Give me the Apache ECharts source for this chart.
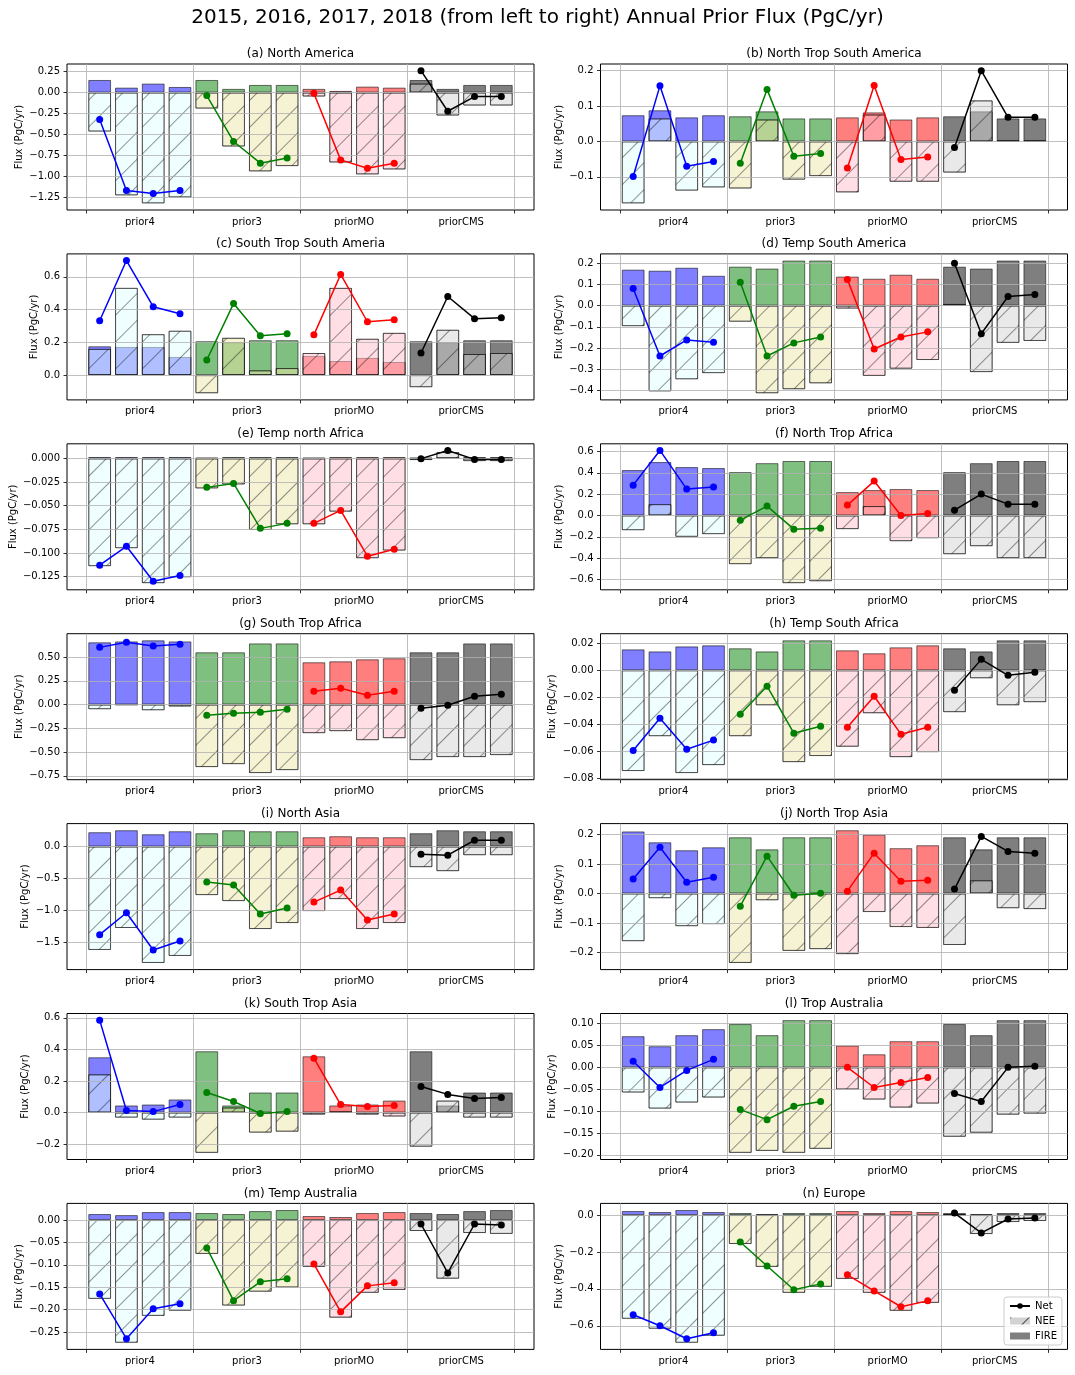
<!DOCTYPE html>
<html><head><meta charset="utf-8">
<script src="https://cdn.jsdelivr.net/npm/echarts@6/dist/echarts.min.js"></script>
<style>html,body{margin:0;padding:0;background:#fff}#c{width:1075px;height:1375px}</style>
</head><body><div id="c"></div>
<script>
// ---------------- data ----------------
const groups = ['prior4', 'prior3', 'priorMO', 'priorCMS'];
const groupLabelPos = [2, 6, 10, 14];
const groupEdges = [0, 4, 8, 12, 16];
const suptitle = '2015, 2016, 2017, 2018 (from left to right) Annual Prior Flux (PgC/yr)';
const yName = 'Flux (PgC/yr)';
const titles = ['(a) North America', '(b) North Trop South America', '(c) South Trop South Ameria',
  '(d) Temp South America', '(e) Temp north Africa', '(f) North Trop Africa', '(g) South Trop Africa',
  '(h) Temp South Africa', '(i) North Asia', '(j) North Trop Asia', '(k) South Trop Asia',
  '(l) Trop Australia', '(m) Temp Australia', '(n) Europe'];

const fire_a = [0.150,0.059,0.107,0.067, 0.150,0.044,0.091,0.091, 0.044,0.020,0.071,0.059, 0.150,0.044,0.091,0.091];
const nee_a  = [-0.463,-1.222,-1.317,-1.246, -0.190,-0.641,-0.937,-0.874, -0.047,-0.831,-0.973,-0.914, 0.107,-0.273,-0.154,-0.154];
const net_a  = [-0.320,-1.163,-1.199,-1.163, -0.036,-0.581,-0.839,-0.779, -0.008,-0.800,-0.900,-0.840, 0.261,-0.222,-0.047,-0.047];
const ticks_a = [-1.25,-1.00,-0.75,-0.50,-0.25,0.00,0.25];

const fire_b = [0.074,0.088,0.068,0.074, 0.071,0.085,0.065,0.065, 0.068,0.082,0.062,0.068, 0.071,0.085,0.065,0.065];
const nee_b  = [-0.175,0.065,-0.139,-0.130, -0.133,0.062,-0.108,-0.098, -0.144,0.076,-0.114,-0.114, -0.088,0.116,0.002,0.002];
const net_b  = [-0.099,0.157,-0.070,-0.057, -0.062,0.147,-0.042,-0.034, -0.075,0.158,-0.051,-0.044, -0.017,0.200,0.068,0.068];
const ticks_b = [-0.1,0.0,0.1,0.2];

const fire_c = [0.176,0.172,0.172,0.111, 0.207,0.201,0.213,0.213, 0.117,0.086,0.105,0.080, 0.207,0.201,0.213,0.213];
const nee_c  = [0.160,0.533,0.250,0.271, -0.111,0.228,0.029,0.043, 0.135,0.533,0.222,0.258, -0.074,0.277,0.129,0.135];
const net_c  = [0.332,0.700,0.418,0.375, 0.092,0.437,0.240,0.252, 0.246,0.615,0.326,0.338, 0.135,0.480,0.345,0.351];
const ticks_c = [0.0,0.2,0.4,0.6];

const fire_d = [0.170,0.165,0.179,0.141, 0.184,0.175,0.213,0.213, 0.137,0.127,0.146,0.127, 0.184,0.175,0.213,0.213];
const nee_d  = [-0.097,-0.405,-0.348,-0.319, -0.076,-0.414,-0.395,-0.367, -0.014,-0.332,-0.298,-0.257, 0.008,-0.314,-0.176,-0.167];
const net_d  = [0.081,-0.238,-0.162,-0.173, 0.110,-0.238,-0.176,-0.148, 0.124,-0.205,-0.148,-0.124, 0.200,-0.133,0.043,0.052];
const ticks_d = [-0.4,-0.3,-0.2,-0.1,0.0,0.1,0.2];

const fire_e = [0.0015,0.0015,0.0015,0.0015, 0.0007,0.0015,0.0015,0.0015, 0.0007,0.0015,0.0015,0.0015, 0.0007,0.0015,0.0015,0.0015];
const nee_e  = [-0.1140,-0.0950,-0.1320,-0.1257, -0.0317,-0.0275,-0.0757,-0.0697, -0.0697,-0.0563,-0.1056,-0.0975, -0.0017,0.0068,-0.0028,-0.0028];
const net_e  = [-0.1130,-0.0930,-0.1300,-0.1240, -0.0306,-0.0264,-0.0740,-0.0687, -0.0687,-0.0550,-0.1035,-0.0960, -0.0002,0.0085,-0.0010,-0.0010];
const ticks_e = [-0.125,-0.100,-0.075,-0.050,-0.025,0.000];

const fire_f = [0.425,0.500,0.453,0.444, 0.406,0.490,0.510,0.510, 0.219,0.238,0.247,0.238, 0.406,0.490,0.510,0.510];
const nee_f  = [-0.138,0.106,-0.200,-0.175, -0.456,-0.400,-0.634,-0.616, -0.128,0.088,-0.241,-0.213, -0.363,-0.288,-0.400,-0.400];
const net_f  = [0.284,0.609,0.247,0.266, -0.044,0.088,-0.128,-0.119, 0.097,0.322,0.000,0.019, 0.050,0.200,0.106,0.106];
const ticks_f = [-0.6,-0.4,-0.2,0.0,0.2,0.4,0.6];

const fire_g = [0.655,0.665,0.676,0.665, 0.550,0.550,0.644,0.644, 0.445,0.455,0.476,0.487, 0.550,0.550,0.644,0.644];
const nee_g  = [-0.049,-0.002,-0.060,-0.021, -0.658,-0.627,-0.721,-0.690, -0.301,-0.280,-0.375,-0.354, -0.585,-0.553,-0.553,-0.532];
const net_g  = [0.602,0.655,0.616,0.634, -0.112,-0.091,-0.081,-0.049, 0.140,0.172,0.098,0.140, -0.039,-0.007,0.088,0.109];
const ticks_g = [-0.75,-0.50,-0.25,0.00,0.25,0.50];

const fire_h = [0.0155,0.0140,0.0177,0.0185, 0.0163,0.0140,0.0222,0.0222, 0.0148,0.0126,0.0170,0.0185, 0.0163,0.0140,0.0222,0.0222];
const nee_h  = [-0.0746,-0.0488,-0.0761,-0.0702, -0.0488,-0.0259,-0.0680,-0.0635, -0.0566,-0.0318,-0.0643,-0.0606, -0.0310,-0.0059,-0.0259,-0.0236];
const net_h  = [-0.0594,-0.0355,-0.0584,-0.0517, -0.0325,-0.0118,-0.0466,-0.0414, -0.0421,-0.0192,-0.0473,-0.0421, -0.0148,0.0081,-0.0037,-0.0015];
const ticks_h = [-0.08,-0.06,-0.04,-0.02,0.00,0.02];

const fire_i = [0.225,0.256,0.193,0.240, 0.209,0.256,0.240,0.240, 0.146,0.162,0.146,0.146, 0.209,0.256,0.240,0.240];
const nee_i  = [-1.625,-1.280,-1.829,-1.719, -0.763,-0.857,-1.296,-1.202, -1.014,-0.826,-1.296,-1.202, -0.324,-0.387,-0.136,-0.136];
const net_i  = [-1.385,-1.040,-1.625,-1.484, -0.559,-0.606,-1.060,-0.967, -0.873,-0.684,-1.155,-1.060, -0.120,-0.136,0.099,0.099];
const ticks_i = [-1.5,-1.0,-0.5,0.0];

const fire_j = [0.211,0.174,0.147,0.157, 0.191,0.150,0.191,0.191, 0.215,0.200,0.154,0.164, 0.191,0.150,0.191,0.191];
const nee_j  = [-0.162,-0.016,-0.111,-0.104, -0.236,-0.023,-0.195,-0.189, -0.206,-0.063,-0.114,-0.117, -0.175,0.045,-0.050,-0.053];
const net_j  = [0.049,0.157,0.038,0.055, -0.043,0.127,-0.006,0.001, 0.008,0.137,0.042,0.045, 0.015,0.194,0.143,0.137];
const ticks_j = [-0.2,-0.1,0.0,0.1,0.2];

const fire_k = [0.350,0.045,0.051,0.083, 0.388,0.045,0.127,0.127, 0.356,0.045,0.051,0.076, 0.388,0.045,0.127,0.127];
const nee_k  = [0.242,-0.032,-0.045,-0.032, -0.255,0.032,-0.127,-0.121, -0.013,0.006,-0.013,-0.025, -0.216,0.076,-0.032,-0.032];
const net_k  = [0.585,0.013,0.006,0.051, 0.127,0.070,-0.006,0.006, 0.344,0.051,0.038,0.045, 0.165,0.115,0.089,0.095];
const ticks_k = [-0.2,0.0,0.2,0.4,0.6];

const fire_l = [0.0713,0.0483,0.0736,0.0874, 0.0990,0.0736,0.1080,0.1080, 0.0498,0.0299,0.0598,0.0598, 0.0990,0.0736,0.1080,0.1080];
const nee_l  = [-0.0575,-0.0943,-0.0805,-0.0690, -0.1955,-0.1910,-0.1955,-0.1863, -0.0506,-0.0736,-0.0920,-0.0828, -0.1587,-0.1495,-0.1081,-0.1058];
const net_l  = [0.0138,-0.0460,-0.0069,0.0184, -0.0966,-0.1196,-0.0890,-0.0780, 0.0000,-0.0460,-0.0345,-0.0230, -0.0598,-0.0780,0.0000,0.0023];
const ticks_l = [-0.20,-0.15,-0.10,-0.05,0.00,0.05,0.10];

const fire_m = [0.0134,0.0110,0.0178,0.0178, 0.0156,0.0134,0.0200,0.0223, 0.0089,0.0067,0.0156,0.0178, 0.0156,0.0134,0.0200,0.0223];
const nee_m  = [-0.1760,-0.2740,-0.2140,-0.2025, -0.0757,-0.1910,-0.1600,-0.1506, -0.1046,-0.2180,-0.1625,-0.1560, -0.0245,-0.1310,-0.0290,-0.0310];
const net_m  = [-0.1650,-0.2650,-0.1980,-0.1870, -0.0623,-0.1800,-0.1380,-0.1310, -0.0980,-0.2050,-0.1470,-0.1400, -0.0089,-0.1180,-0.0089,-0.0110];
const ticks_m = [-0.25,-0.20,-0.15,-0.10,-0.05,0.00];

const fire_n = [0.0216,0.0162,0.0270,0.0162, 0.0108,0.0054,0.0108,0.0108, 0.0216,0.0108,0.0216,0.0162, 0.0108,0.0054,0.0108,0.0108];
const nee_n  = [-0.562,-0.616,-0.692,-0.654, -0.157,-0.281,-0.4216,-0.389, -0.346,-0.4216,-0.519,-0.476, 0.001,-0.103,-0.038,-0.0324];
const net_n  = [-0.540,-0.600,-0.670,-0.638, -0.146,-0.276,-0.405,-0.373, -0.324,-0.411,-0.497,-0.465, 0.0108,-0.097,-0.0216,-0.0162];
const ticks_n = [-0.6,-0.4,-0.2,0.0];

const tickDecimals = [2,1,1,1,3,1,2,2,1,1,1,2,2,1];

const panels = [
  [fire_a, nee_a, net_a, ticks_a], [fire_b, nee_b, net_b, ticks_b],
  [fire_c, nee_c, net_c, ticks_c], [fire_d, nee_d, net_d, ticks_d],
  [fire_e, nee_e, net_e, ticks_e], [fire_f, nee_f, net_f, ticks_f],
  [fire_g, nee_g, net_g, ticks_g], [fire_h, nee_h, net_h, ticks_h],
  [fire_i, nee_i, net_i, ticks_i], [fire_j, nee_j, net_j, ticks_j],
  [fire_k, nee_k, net_k, ticks_k], [fire_l, nee_l, net_l, ticks_l],
  [fire_m, nee_m, net_m, ticks_m], [fire_n, nee_n, net_n, ticks_n]
];

// ---------------- style / layout ----------------
const fireColors = ['rgba(0,0,255,0.5)', 'rgba(0,128,0,0.5)', 'rgba(255,0,0,0.5)', 'rgba(0,0,0,0.5)'];
const neeColors = ['rgba(224,255,255,0.5)', 'rgba(238,232,170,0.5)', 'rgba(255,192,203,0.5)', 'rgba(211,211,211,0.5)'];
const lineColors = ['#0000ff', '#008000', '#ff0000', '#000000'];
const FONT = '"DejaVu Sans", sans-serif';
const colLeft = [67, 600.5], AXW = 467, AXH = 146, ROW0 = 64, ROWP = 189.9;
const X_MIN = -0.72, X_MAX = 16.72, BAR_FRAC = 0.85;
const barW = BAR_FRAC * AXW / (X_MAX - X_MIN);

const mctx = document.createElement('canvas').getContext('2d');
mctx.font = '10px "DejaVu Sans"';

const hatch = {symbol: 'rect', symbolSize: 1, color: 'rgba(0,0,0,0.42)', dashArrayX: [1, 0], dashArrayY: [1, 18], rotation: -Math.PI / 4};
const legendHatch = {symbol: 'rect', symbolSize: 1, color: 'rgba(0,0,0,0.7)', dashArrayX: [1, 0], dashArrayY: [1, 12], rotation: -Math.PI / 4};

const grids = [], xAxes = [], yAxes = [], series = [], graphics = [];
graphics.push({type: 'text', x: 537.5, y: 8, z: 10, style: {text: suptitle, fill: '#000', font: '20px ' + FONT, textAlign: 'center', textVerticalAlign: 'top'}});

panels.forEach((p, k) => {
  const [fire, nee, net, ticks] = p;
  const col = k % 2, row = Math.floor(k / 2);
  const left = colLeft[col], top = ROW0 + row * ROWP;
  grids.push({left: left, top: top, width: AXW, height: AXH, show: true, borderColor: '#000', borderWidth: 1,
    backgroundColor: 'rgba(0,0,0,0)', containLabel: false, outerBoundsMode: 'none'});
  graphics.push({type: 'text', x: left + AXW / 2, y: top - 16, z: 10,
    style: {text: titles[k], fill: '#000', font: '12px ' + FONT, textAlign: 'center', textVerticalAlign: 'top'}});

  const all = [0].concat(fire, nee, net);
  let lo = Math.min(...all), hi = Math.max(...all);
  const rng = hi - lo; lo -= 0.05 * rng; hi += 0.05 * rng;
  const dec = tickDecimals[k];
  const fmt = v => (v < 0 ? '\u2212' : '') + Math.abs(v).toFixed(dec);
  const lw = Math.max(...ticks.map(v => mctx.measureText(fmt(v)).width));

  xAxes.push({gridIndex: k, type: 'value', min: X_MIN, max: X_MAX, z: 3,
    axisLine: {show: false, onZero: false},
    axisTick: {show: true, customValues: groupEdges, length: 3.5, lineStyle: {color: '#000', width: 0.8}},
    splitLine: {show: true, lineStyle: {color: '#b0b0b0', width: 0.8}},
    axisLabel: {customValues: groupLabelPos, formatter: v => groups[groupLabelPos.indexOf(v)] || '',
      margin: 7, fontSize: 10, fontFamily: FONT, color: '#000'}
  });
  yAxes.push({gridIndex: k, type: 'value', min: lo, max: hi, z: 3,
    name: yName, nameLocation: 'middle', nameRotate: 90, nameGap: lw + 12,
    nameTextStyle: {fontSize: 10, fontFamily: FONT, color: '#000'},
    axisLine: {show: false, onZero: false},
    axisTick: {show: true, customValues: ticks, length: 3.5, lineStyle: {color: '#000', width: 0.8}},
    splitLine: {show: true, lineStyle: {color: '#b0b0b0', width: 0.8}},
    axisLabel: {customValues: ticks, formatter: v => fmt(v), margin: 7, fontSize: 10, fontFamily: FONT, color: '#000'}
  });

  const xOf = i => Math.floor(i / 4) * 4 + (i % 4) + 0.5;
  series.push({type: 'bar', name: 'FIRE', xAxisIndex: k, yAxisIndex: k, barWidth: barW, barGap: '-100%', z: 2,
    itemStyle: {color: 'rgba(0,0,0,0.5)', borderColor: 'rgba(0,0,0,0.55)', borderWidth: 1},
    data: fire.map((v, i) => ({value: [xOf(i), v], itemStyle: {color: fireColors[Math.floor(i / 4)]}})),
    silent: true});
  series.push({type: 'bar', name: 'NEE', xAxisIndex: k, yAxisIndex: k, barWidth: barW, barGap: '-100%', z: 2,
    itemStyle: {color: 'rgba(211,211,211,0.5)', borderColor: 'rgba(0,0,0,0.45)', borderWidth: 1, decal: hatch},
    data: nee.map((v, i) => ({value: [xOf(i), v], itemStyle: {color: neeColors[Math.floor(i / 4)], decal: hatch}})),
    silent: true});
  for (let g = 0; g < 4; g++) {
    series.push({type: 'line', name: g === 3 ? 'Net' : 'Net ' + groups[g], xAxisIndex: k, yAxisIndex: k, z: 5,
      symbol: 'circle', symbolSize: 7, showSymbol: true,
      lineStyle: {color: lineColors[g], width: 1.5}, itemStyle: {color: lineColors[g]},
      data: net.slice(g * 4, g * 4 + 4).map((v, j) => [xOf(g * 4 + j), v]), silent: true});
  }
});

const chart = echarts.init(document.getElementById('c'), null, {renderer: 'canvas', width: 1075, height: 1375});
chart.setOption({
  animation: false,
  backgroundColor: '#fff',
  grid: grids, xAxis: xAxes, yAxis: yAxes, series: series, graphic: graphics,
  legend: {
    data: [
      {name: 'Net'},
      {name: 'NEE', icon: 'rect', itemStyle: {color: 'rgba(200,200,200,0.8)', borderWidth: 0, decal: legendHatch}},
      {name: 'FIRE', icon: 'rect', itemStyle: {color: 'rgba(0,0,0,0.5)', borderWidth: 0}}
    ],
    orient: 'vertical', left: 1004, top: 1297, z: 20,
    itemWidth: 20, itemHeight: 7, itemGap: 5, padding: [4, 5, 4, 5], selectedMode: false,
    borderColor: '#cccccc', borderWidth: 1, borderRadius: 3, backgroundColor: 'rgba(255,255,255,0.8)',
    textStyle: {fontSize: 10, fontFamily: FONT, color: '#000'}}
});
</script></body></html>
